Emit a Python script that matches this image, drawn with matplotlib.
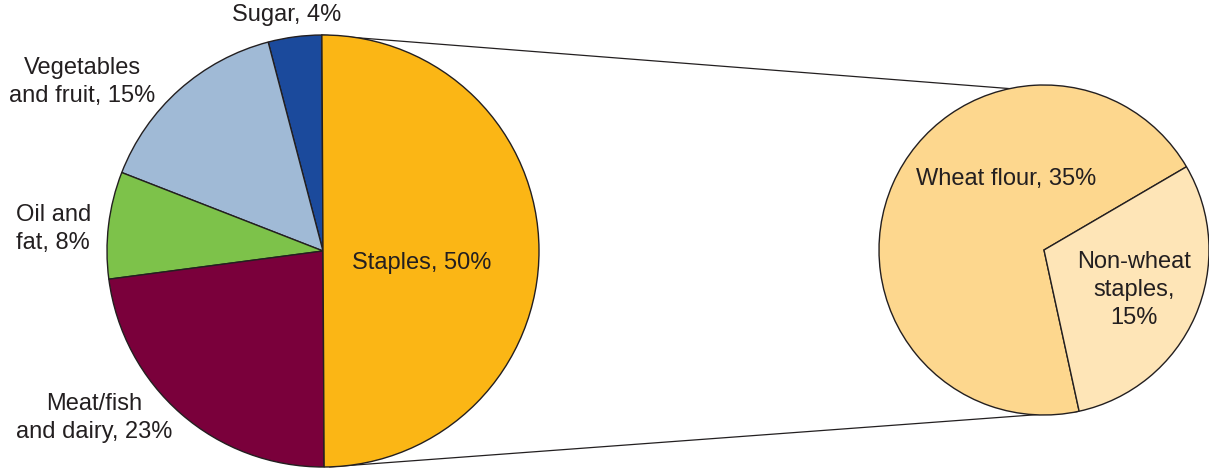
import numpy as np
import matplotlib
matplotlib.use("Agg")
import matplotlib.pyplot as plt

# ---- data ----
main_labels = ["Sugar, 4%", "Vegetables\nand fruit, 15%", "Oil and\nfat, 8%",
               "Meat/fish\nand dairy, 23%", "Staples, 50%"]
main_values = [4, 15, 8, 23, 50]
main_colors = ["#1B4A9C", "#A0BAD6", "#7DC24A", "#7A003B", "#FBB615"]

sub_labels = ["Wheat flour, 35%", "Non-wheat\nstaples,\n15%"]
sub_values = [35, 15]
sub_colors = ["#FDD78E", "#FEE5B7"]

W, H = 1209, 469
fig = plt.figure(figsize=(W / 100, H / 100), dpi=100)
ax = fig.add_axes([0, 0, 1, 1])

def py(y):
    return H - y

edge = "#231F20"
txt = "#231F20"
plt.rcParams["font.family"] = ["Liberation Sans", "DejaVu Sans"]
fs = 17
ls = 1.33

# left pie
c1 = (323, py(251)); r1 = 216
start1 = 90.3
ax.pie(main_values, colors=main_colors, startangle=start1, counterclock=True,
       center=c1, radius=r1, frame=True,
       wedgeprops=dict(edgecolor=edge, linewidth=1.0))

# right pie
c2 = (1044, py(250)); r2 = 165
start2 = 30.3
ax.pie(sub_values, colors=sub_colors, startangle=start2, counterclock=True,
       center=c2, radius=r2, frame=True,
       wedgeprops=dict(edgecolor=edge, linewidth=1.0))

# connector lines
def pt(c, r, ang):
    a = np.deg2rad(ang)
    return c[0] + r * np.cos(a), c[1] + r * np.sin(a)

x0, y0 = pt(c1, r1, start1)
x1, y1 = pt(c2, r2, 102)
ax.plot([x0, x1], [y0, y1], color=edge, lw=0.9, zorder=0)
x0, y0 = pt(c1, r1, start1 + 180 + 1.5)
x1, y1 = pt(c2, r2, -78.5)
ax.plot([x0, x1], [y0, y1], color=edge, lw=0.9, zorder=0)

# labels
ax.text(287, py(15), main_labels[0], ha="center", va="center", fontsize=fs, color=txt)
ax.text(82, py(82), main_labels[1], ha="center", va="center", fontsize=fs, color=txt,
        linespacing=ls)
ax.text(16, py(229), main_labels[2], ha="left", va="center", fontsize=fs, color=txt,
        linespacing=ls)
ax.text(94, py(418), main_labels[3], ha="center", va="center", fontsize=fs, color=txt,
        linespacing=ls)
ax.text(422, py(263), main_labels[4], ha="center", va="center", fontsize=fs, color=txt)
ax.text(1006, py(179), sub_labels[0], ha="center", va="center", fontsize=fs, color=txt)
ax.text(1134, py(290), sub_labels[1], ha="center", va="center", fontsize=fs, color=txt,
        linespacing=ls)

ax.set_xlim(0, W)
ax.set_ylim(0, H)
ax.set_aspect("equal")
ax.axis("off")
fig.savefig("out.png", dpi=100, facecolor="white")
